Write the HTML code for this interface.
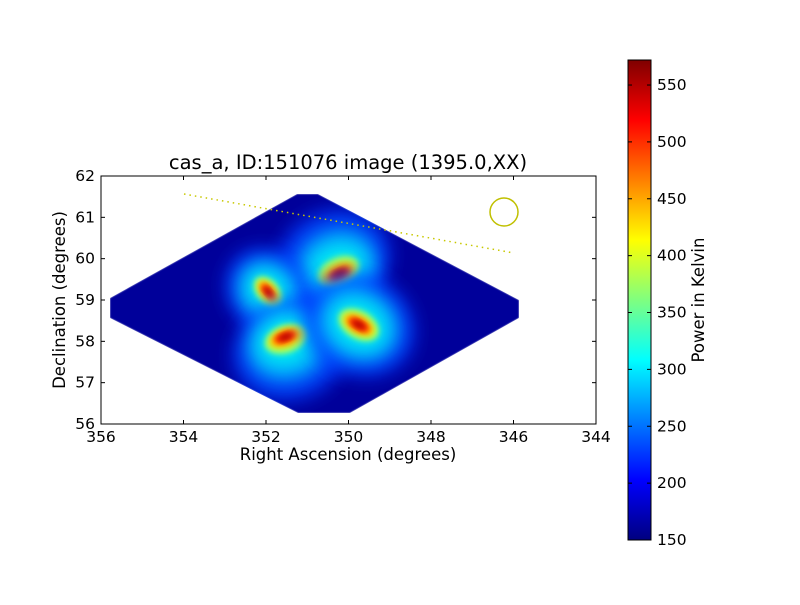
<!DOCTYPE html>
<html><head><meta charset="utf-8"><style>
body{margin:0;background:#fff;}
svg text{font-family:"DejaVu Sans","Liberation Sans",sans-serif;}
</style></head><body>
<svg id="c" width="800" height="600" xmlns="http://www.w3.org/2000/svg">
<defs>
<linearGradient id="jet" x1="0" y1="1" x2="0" y2="0">
<stop offset="0" stop-color="#00007f"/><stop offset="0.125" stop-color="#0000ff"/><stop offset="0.375" stop-color="#00ffff"/><stop offset="0.625" stop-color="#ffff00"/><stop offset="0.875" stop-color="#ff0000"/><stop offset="1" stop-color="#7f0000"/>
</linearGradient>
<filter id="b8" x="-50%" y="-50%" width="200%" height="200%"><feGaussianBlur stdDeviation="9"/></filter>
<filter id="b4" x="-50%" y="-50%" width="200%" height="200%"><feGaussianBlur stdDeviation="3"/></filter>
<filter id="b1"><feGaussianBlur stdDeviation="0.8"/></filter>
<clipPath id="dia"><polygon points="297,194 318,194 519,300 519,318 350,413 298,413 110,318 110,298"/></clipPath>
</defs>
<g id="img" clip-path="url(#dia)">
<polygon points="297,194 318,194 519,300 519,318 350,413 298,413 110,318 110,298" fill="#00009a" filter="url(#b1)"/>
</g>
<g id="axes"></g>
</svg>
<script>
const xTicks=[356,354,352,350,348,346,344];
const yTicks=[56,57,58,59,60,61,62];
const cbTicks=[150,200,250,300,350,400,450,500,550];
const cbRange=[150,572];
const srcRa=[350.2,351.95,351.55,349.75];
const srcDec=[59.6,59.2,58.15,58.4];
const srcAng=[-25,50,-20,30];
const ns="http://www.w3.org/2000/svg";
const X0=101,X1=596,Y0=176,Y1=424;
const xs=v=>X0+(356-v)/(356-344)*(X1-X0);
const ys=v=>Y1-(v-56)/(62-56)*(Y1-Y0);
const svg=document.getElementById('c');
function mk(t,a,p){const e=document.createElementNS(ns,t);for(const k in a)e.setAttribute(k,a[k]);(p||svg).appendChild(e);return e;}
const img=document.getElementById('img');
const layers=[[58,50,'#0040ff',0.85,'b8',0],[42,36,'#00b0ff',0.9,'b8',6],[30,24,'#00f0f0',0.95,'b8',10],[22,14,'#a0ff60',1,'b4',12],[17,9,'#ffd000',1,'b4',13],[12,6,'#ff3000',1,'b4',14],[7,3,'#b00000',1,'b4',14]];
srcRa.forEach((ra,i)=>{
  const cx=xs(ra),cy=ys(srcDec[i]),a=srcAng[i];
  layers.forEach((L,j)=>{
    const off=(i==0||i==2)?(i==0?-1:1)*(16-L[5]):0;
    const s=(i==1)?0.8:1;
    const e=mk('ellipse',{cx:cx,cy:cy+off,rx:L[0]*s,ry:L[1]*s,fill:L[2],opacity:L[3],filter:'url(#'+L[4]+')',transform:'rotate('+a+' '+cx+' '+cy+')'},img);
    
    
  });
});
const ax=document.getElementById('axes');
const ln=mk('line',{x1:184,y1:194,x2:514,y2:253,stroke:'#c8c800','stroke-width':1.5,'stroke-dasharray':'1.5,4'},ax);

const ci=mk('circle',{cx:504,cy:212,r:14,fill:'none',stroke:'#c0c000','stroke-width':1.5},ax);

const fr=mk('rect',{x:X0,y:Y0,width:X1-X0,height:Y1-Y0,fill:'none',stroke:'#000','stroke-width':1},ax);

xTicks.forEach(v=>{const x=xs(v);
  mk('line',{x1:x,y1:Y1,x2:x,y2:Y1-4,stroke:'#000'},ax);mk('line',{x1:x,y1:Y0,x2:x,y2:Y0+4,stroke:'#000'},ax);
  const t=mk('text',{x:x,y:Y1+18,'text-anchor':'middle','font-size':15.5},ax);t.textContent=v;
  });
yTicks.forEach(v=>{const y=ys(v);
  mk('line',{x1:X0,y1:y,x2:X0+4,y2:y,stroke:'#000'},ax);mk('line',{x1:X1,y1:y,x2:X1-4,y2:y,stroke:'#000'},ax);
  const t=mk('text',{x:X0-6,y:y+5,'text-anchor':'end','font-size':15.5},ax);t.textContent=v;
  });
let t=mk('text',{x:348,y:169,'text-anchor':'middle','font-size':19.5},ax);t.textContent='cas_a, ID:151076 image (1395.0,XX)';

t=mk('text',{x:348,y:460,'text-anchor':'middle','font-size':16.5},ax);t.textContent='Right Ascension (degrees)';

t=mk('text',{x:65,y:300,'text-anchor':'middle','font-size':16.5,transform:'rotate(-90 65 300)'},ax);t.textContent='Declination (degrees)';

const CX=628,CW=23,CT=60,CB=540;
const cs=v=>CB-(v-cbRange[0])/(cbRange[1]-cbRange[0])*(CB-CT);
const cb=mk('rect',{x:CX,y:CT,width:CW,height:CB-CT,fill:'url(#jet)',stroke:'#000'},ax);

cbTicks.forEach(v=>{const y=cs(v);
  mk('line',{x1:CX,y1:y,x2:CX+4,y2:y,stroke:'#000'},ax);mk('line',{x1:CX+CW,y1:y,x2:CX+CW-4,y2:y,stroke:'#000'},ax);
  const t=mk('text',{x:CX+CW+6,y:y+5,'font-size':15.5},ax);t.textContent=v;
  });
t=mk('text',{x:704,y:300,'text-anchor':'middle','font-size':16.5,transform:'rotate(-90 704 300)'},ax);t.textContent='Power in Kelvin';

</script>
</body></html>
